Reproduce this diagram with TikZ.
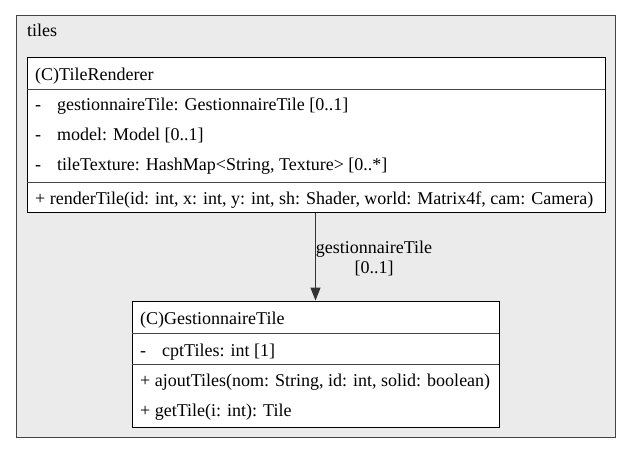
\documentclass[tikz,border=0pt]{standalone}
\usepackage{fontspec}
\setmainfont{Liberation Serif}
\usetikzlibrary{arrows.meta}
\definecolor{clfill}{HTML}{EBEBEB}
\definecolor{clline}{HTML}{444444}
\tikzset{
  cluster/.style={draw=clline, fill=clfill, line width=1pt},
  classbox/.style={draw=black, fill=white, line width=1pt, inner sep=0pt},
  divider/.style={draw=clline, line width=1pt},
  txt/.style={anchor=base west, inner sep=0pt, font=\fontsize{18}{20}\selectfont},
  lbl/.style={inner sep=0pt, font=\fontsize{18}{20}\selectfont, align=center},
  assoc/.style={draw=black!80, line width=1.2pt, -{Triangle[length=13pt,width=10pt]}}
}
\begin{document}
\begin{tikzpicture}[x=1pt,y=-1pt]
\useasboundingbox (0,0) rectangle (632,453);
\node[cluster, minimum width=599pt, minimum height=422pt, inner sep=0pt] (pkg) at (315.5,226) {};
\node[txt] (pkgname) at (27,36) {tiles};
% TileRenderer
\node[classbox, minimum width=578pt, minimum height=155pt] (tr) at (316,135) {};
\coordinate (trd1l) at (27,89); \coordinate (trd1r) at (605,89);
\coordinate (trd2l) at (27,182); \coordinate (trd2r) at (605,182);
\draw[divider] (trd1l) -- (trd1r);
\draw[divider] (trd2l) -- (trd2r);
\node[txt] (trn) at (35,80) {(C)TileRenderer};
\node[txt] (tra1m) at (35,110) {-};
\node[txt] (tra1) at (57,110) {gestionnaireTile: GestionnaireTile [0..1]};
\node[txt] (tra2m) at (35,140) {-};
\node[txt] (tra2) at (57,140) {model: Model [0..1]};
\node[txt] (tra3m) at (35,170) {-};
\node[txt] (tra3) at (57,170) {tileTexture: HashMap<String, Texture> [0..*]};
\node[txt] (trm1) at (35,204) {+ renderTile(id: int, x: int, y: int, sh: Shader, world: Matrix4f, cam: Camera)};
% GestionnaireTile
\node[classbox, minimum width=367pt, minimum height=126pt] (gt) at (315.5,364) {};
\coordinate (gtd1l) at (132,333); \coordinate (gtd1r) at (499,333);
\coordinate (gtd2l) at (132,364); \coordinate (gtd2r) at (499,364);
\draw[divider] (gtd1l) -- (gtd1r);
\draw[divider] (gtd2l) -- (gtd2r);
\node[txt] (gtn) at (140,324) {(C)GestionnaireTile};
\node[txt] (gta1m) at (140,356) {-};
\node[txt] (gta1) at (162,356) {cptTiles: int [1]};
\node[txt] (gtm1) at (140,386) {+ ajoutTiles(nom: String, id: int, solid: boolean)};
\node[txt] (gtm2) at (140,416) {+ getTile(i: int): Tile};
% association
\draw[assoc] (tr.south -| gt.north) -- (gt.north);
\node[lbl] (al) at (374,258) {gestionnaireTile\\{}[0..1]};
\end{tikzpicture}
\end{document}
